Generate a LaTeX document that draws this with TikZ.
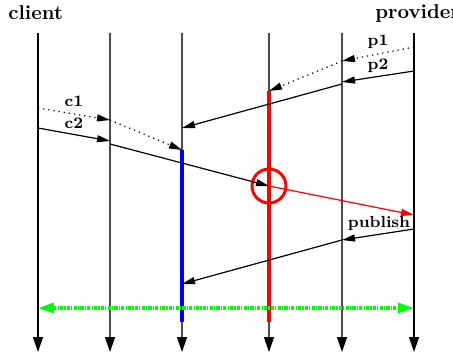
\documentclass[tikz,border=0pt]{standalone}
\usetikzlibrary{arrows.meta}
\begin{document}
\begin{tikzpicture}[x=0.5pt, y=-0.5pt, font=\bfseries,
    life/.style={draw=black!70, line width=0.6pt, -{Triangle[length=7.5pt,width=5pt,color=black]}},
    msg/.style={line width=0.6pt, -{Triangle[length=6.5pt,width=3.5pt]}},
    lbl/.style={font=\footnotesize\bfseries, inner sep=0pt}]
	\useasboundingbox (0,0) rectangle (453,353);
	% lifelines
	\foreach \i/\x in {1/38,2/110,3/182,4/269,5/342,6/414} {
		\coordinate (t\i) at (\x,33);
		\coordinate (b\i) at (\x,352);
	}
	\draw[life, draw=black] (t1)--(b1);
	\draw[life] (t2)--(b2);
	\draw[life] (t3)--(b3);
	\draw[life] (t4)--(b4);
	\draw[life] (t5)--(b5);
	\draw[life, draw=black] (t6)--(b6);
	\node[anchor=west, inner sep=0pt] (client) at (8,13) {client};
	\node[anchor=west, inner sep=0pt] (provider) at (375,14) {provider};
	% message points
	\coordinate (c1a) at (38,108);  \coordinate (c1b) at (110,120); \coordinate (c1c) at (182,150);
	\coordinate (c2a) at (38,128);  \coordinate (c2b) at (110,141); \coordinate (c2c) at (110,144);
	\coordinate (X) at (269,186);   \coordinate (c2e) at (414,215);
	\coordinate (p1a) at (414,47);  \coordinate (p1b) at (342,61);  \coordinate (p1c) at (269,91);
	\coordinate (p2a) at (414,71);  \coordinate (p2b) at (342,82);  \coordinate (p2c) at (342,84);
	\coordinate (p2d) at (182,128);
	\coordinate (pua) at (414,229); \coordinate (pub) at (342,240); \coordinate (puc) at (182,284);
	% busy periods
	\draw[blue, line width=1.6pt] (c1c)--(182,322);
	\draw[red, line width=1.6pt] (p1c)--(269,322);
	\draw[red, line width=1.5pt] (X) circle[radius=8.5pt];
	% messages
	\draw[msg, dotted] (c1a)--(c1b);
	\draw[msg, dotted] (c1b)--(c1c);
	\draw[msg] (c2a)--(c2b);
	\draw[msg] (c2c)--(X);
	\draw[msg, red] (X)--(c2e);
	\draw[msg, dotted] (p1a)--(p1b);
	\draw[msg, dotted] (p1b)--(p1c);
	\draw[msg] (p2a)--(p2b);
	\draw[msg] (p2c)--(p2d);
	\draw[msg] (pua)--(pub);
	\draw[msg] (pub)--(puc);
	\node[lbl] (lc1) at (74,101) {c1};
	\node[lbl] (lc2) at (74,123) {c2};
	\node[lbl] (lp1) at (378,42) {p1};
	\node[lbl] (lp2) at (378,66) {p2};
	\node[lbl] (lpub) at (379,223) {publish};
	% global sync
	\coordinate (g1) at (38,308); \coordinate (g2) at (414,308);
	\draw[green, line width=1.6pt, dash pattern=on 1.6pt off 0.6pt on 0.6pt off 0.6pt,
		{Triangle[length=8pt,width=5pt]}-{Triangle[length=8pt,width=5pt]}] (g1)--(g2);
\end{tikzpicture}
\end{document}
